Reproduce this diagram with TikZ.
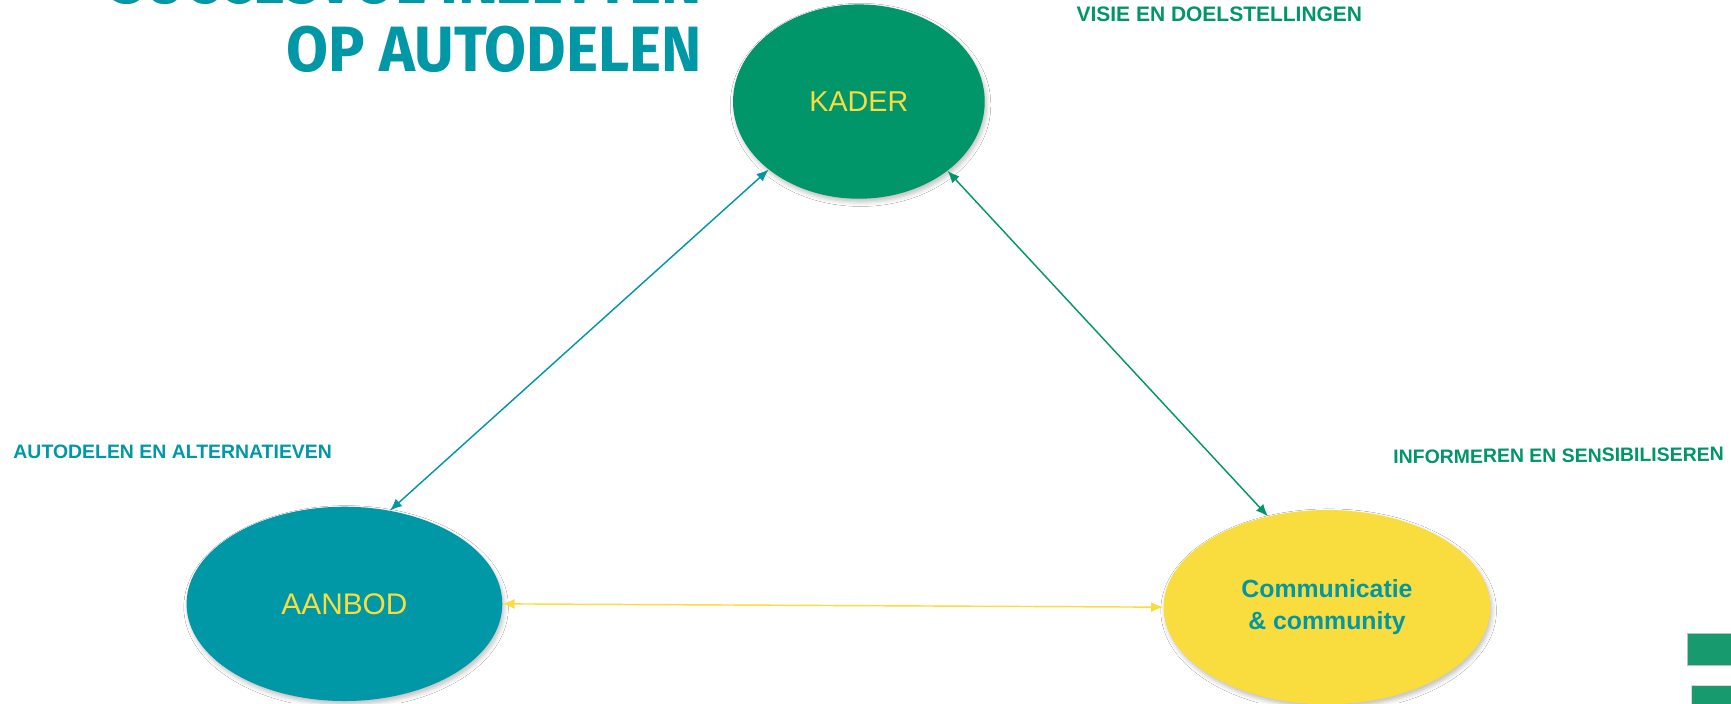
\documentclass[tikz,border=0pt]{standalone}
\usepackage{fontspec}
\setmainfont{Liberation Sans}
\newfontfamily\titlefont[FakeStretch=0.95,UprightFont={* Bold}]{Fira Sans}
\usetikzlibrary{arrows.meta,shapes.geometric,shadows.blur}
\definecolor{cgreen}{HTML}{009669}
\definecolor{cteal}{HTML}{0097A7}
\definecolor{cyellow}{HTML}{F9DC3E}
\definecolor{cbar}{HTML}{169A6E}
\tikzset{
  bubble/.style={ellipse, inner sep=0pt, minimum height=176pt,
    blur shadow={shadow xshift=1.5pt, shadow yshift=-3pt, shadow blur radius=4pt, shadow opacity=25}},
  tag/.style={font=\fontsize{17.6}{20}\selectfont\bfseries, inner sep=0pt, anchor=west},
  link/.style={line width=1.3pt, {Latex[length=11pt,width=9pt]}-{Latex[length=11pt,width=9pt]}},
}
\begin{document}
\begin{tikzpicture}[x=1pt,y=-1pt]
\clip (0,0) rectangle (1568,637);
\fill[white] (0,0) rectangle (1568,637);
% title
\node[anchor=base east, inner sep=0pt, text=cteal, font=\titlefont\fontsize{58}{63}\selectfont] (t1) at (636,3) {SUCCESVOL INZETTEN};
\node[anchor=base east, inner sep=0pt, text=cteal, font=\titlefont\fontsize{58}{63}\selectfont] (t2) at (636,65) {OP AUTODELEN};
% bubbles
\node[bubble, fill=cgreen, minimum width=228pt, text=cyellow, font=\fontsize{26}{30}\selectfont] (kader) at (778,92) {KADER};
\node[bubble, fill=cteal, minimum width=286pt, text=cyellow, font=\fontsize{27}{30}\selectfont] (aanbod) at (312,547) {AANBOD};
\node[bubble, fill=cyellow, minimum width=296pt, text=cteal, align=center, font=\fontsize{22.5}{29}\selectfont\bfseries] (comm) at (1202,550) {Communicatie\\\& community};
% labels
\node[tag, text=cgreen, font=\fontsize{19}{20}\selectfont\bfseries] (l1) at (975,13) {VISIE EN DOELSTELLINGEN};
\node[tag, text=cteal] (l2) at (12,409) {AUTODELEN EN ALTERNATIEVEN};
\node[tag, text=cgreen, rotate=0.5] (l3) at (1262,414) {INFORMEREN EN SENSIBILISEREN};
% links
\draw[link, cteal] (kader.217) -- (aanbod.64);
\draw[link, cgreen] (kader.322) -- (comm.123);
\draw[link, cyellow] (aanbod.east) -- (comm.west);
% corner bars
\fill[cbar, draw=gray!50, line width=0.6pt] (1528,573.5) rectangle (1572,602.5);
\fill[cbar, draw=gray!30, line width=0.6pt] (1532,620.6) rectangle (1572,645);
\end{tikzpicture}
\end{document}
